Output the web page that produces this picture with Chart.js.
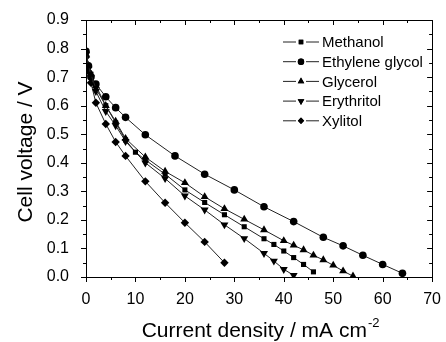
<!DOCTYPE html>
<html>
<head>
<meta charset="utf-8">
<script src="https://cdn.jsdelivr.net/npm/chart.js@4/dist/chart.umd.min.js"></script>
<style>
  html, body { margin: 0; padding: 0; background: #fff; }
  #wrap { width: 446px; height: 342px; }
</style>
</head>
<body>
<div id="wrap"><canvas id="polCurve" width="446" height="342"></canvas></div>
<script>
const seriesNames = ['Methanol', 'Ethylene glycol', 'Glycerol', 'Erythritol', 'Xylitol'];
const markerStyles = ['rect', 'circle', 'triangle', 'triangle', 'rectRot'];
const markerRotations = [0, 0, 0, 180, 0];
const markerRadii = [3.6, 3.8, 4.6, 4.6, 4.2];

const methanolX = [0, 0.5, 1, 2, 4, 6, 8, 10, 12, 16, 20, 24, 28, 32, 36, 38, 40, 42, 44, 46];
const methanolV = [0.79, 0.74, 0.71, 0.66, 0.60, 0.54, 0.48, 0.437, 0.41, 0.36, 0.305, 0.261, 0.218, 0.176, 0.134, 0.114, 0.091, 0.068, 0.044, 0.018];

const glycolX = [0, 0.5, 1, 2, 4, 6, 8, 12, 18, 24, 30, 36, 42, 48, 52, 56, 60, 64];
const glycolV = [0.79, 0.74, 0.70, 0.676, 0.631, 0.593, 0.559, 0.498, 0.424, 0.36, 0.305, 0.246, 0.194, 0.139, 0.109, 0.076, 0.044, 0.013];

const glycerolX = [0, 0.5, 1, 2, 4, 6, 8, 12, 16, 20, 24, 28, 32, 36, 40, 42, 44, 46, 48, 50, 52, 54];
const glycerolV = [0.78, 0.74, 0.71, 0.67, 0.60, 0.545, 0.485, 0.42, 0.37, 0.33, 0.281, 0.239, 0.202, 0.165, 0.127, 0.111, 0.095, 0.076, 0.06, 0.041, 0.021, 0.003];

const erythritolX = [0, 0.5, 1, 2, 4, 6, 8, 12, 16, 20, 24, 28, 32, 36, 38, 40, 42];
const erythritolV = [0.78, 0.73, 0.70, 0.65, 0.58, 0.53, 0.475, 0.40, 0.345, 0.284, 0.235, 0.183, 0.135, 0.083, 0.056, 0.027, 0.006];

const xylitolX = [0, 0.5, 1, 2, 4, 6, 8, 12, 16, 20, 24, 28];
const xylitolV = [0.77, 0.72, 0.68, 0.61, 0.536, 0.473, 0.424, 0.335, 0.26, 0.19, 0.123, 0.05];

const xTicks = [0, 10, 20, 30, 40, 50, 60, 70];
const yTicks = [0.0, 0.1, 0.2, 0.3, 0.4, 0.5, 0.6, 0.7, 0.8, 0.9];

const allX = [methanolX, glycolX, glycerolX, erythritolX, xylitolX];
const allV = [methanolV, glycolV, glycerolV, erythritolV, xylitolV];

const FONT = '"Liberation Sans", Arial, sans-serif';

const datasets = seriesNames.map((name, i) => ({
    label: name,
    data: allX[i].map((x, j) => ({ x: x, y: allV[i][j] })),
    showLine: true,
    borderColor: '#222',
    borderWidth: 1,
    backgroundColor: '#000',
    pointBackgroundColor: '#000',
    pointBorderColor: '#000',
    pointBorderWidth: 0,
    pointStyle: markerStyles[i],
    rotation: markerRotations[i],
    pointRadius: markerRadii[i],
    tension: 0
}));

// frame, minor ticks, axis titles, legend
const framePlugin = {
    id: 'frame',
    afterDraw(chart) {
        const ctx = chart.ctx;
        const area = chart.chartArea;
        const xs = chart.scales.x;
        const ys = chart.scales.y;
        ctx.save();
        ctx.strokeStyle = '#000';
        ctx.lineWidth = 1;
        ctx.strokeRect(Math.round(area.left) + 0.5, Math.round(area.top) + 0.5,
            Math.round(area.right - area.left), Math.round(area.bottom - area.top));

        ctx.beginPath();
        for (let v = 0; v <= 70; v += 5) {
            const px = Math.round(xs.getPixelForValue(v)) + 0.5;
            const len = v % 10 === 0 ? 5 : 3;
            ctx.moveTo(px, area.bottom);
            ctx.lineTo(px, area.bottom + len);
            ctx.moveTo(px, area.top);
            ctx.lineTo(px, area.top + len);
        }
        for (let k = 0; k <= 18; k++) {
            const py = Math.round(ys.getPixelForValue(k * 0.05)) + 0.5;
            const len = k % 2 === 0 ? 5 : 3;
            ctx.moveTo(area.left, py);
            ctx.lineTo(area.left - len, py);
            ctx.moveTo(area.right, py);
            ctx.lineTo(area.right - len, py);
        }
        ctx.stroke();

        // axis titles
        ctx.fillStyle = '#000';
        ctx.textBaseline = 'alphabetic';
        const main = 'Current density / mA cm';
        const sup = '-2';
        ctx.font = '21px ' + FONT;
        const wMain = ctx.measureText(main).width;
        ctx.font = '13px ' + FONT;
        const wSup = ctx.measureText(sup).width;
        const cx = (area.left + area.right) / 2 + 1;
        const startX = cx - (wMain + wSup) / 2;
        ctx.textAlign = 'left';
        ctx.font = '21px ' + FONT;
        ctx.fillText(main, startX, 337);
        ctx.font = '13px ' + FONT;
        ctx.fillText(sup, startX + wMain + 1, 327);

        ctx.save();
        ctx.translate(32, 152);
        ctx.rotate(-Math.PI / 2);
        ctx.textAlign = 'center';
        ctx.font = '21px ' + FONT;
        ctx.fillText('Cell voltage / V', 0, 0);
        ctx.restore();

        // legend: line - marker - line, then name
        ctx.font = '15px ' + FONT;
        ctx.textAlign = 'left';
        ctx.textBaseline = 'middle';
        chart.data.datasets.forEach((ds, i) => {
            const y = 42 + i * 19.7;
            ctx.strokeStyle = '#222';
            ctx.beginPath();
            ctx.moveTo(283, y);
            ctx.lineTo(296, y);
            ctx.moveTo(306, y);
            ctx.lineTo(319, y);
            ctx.stroke();
            Chart.helpers.drawPoint(ctx, {
                pointStyle: ds.pointStyle,
                rotation: ds.rotation,
                radius: ds.pointStyle === 'triangle' ? 3.8 : 3.2,
                borderWidth: 0
            }, 301, y);
            ctx.fillStyle = '#000';
            ctx.fill();
            ctx.fillText(ds.label, 322, y + 1);
        });
        ctx.restore();
    }
};

new Chart(document.getElementById('polCurve').getContext('2d'), {
    type: 'scatter',
    data: { datasets: datasets },
    options: {
        responsive: false,
        animation: false,
        devicePixelRatio: 1,
        layout: { padding: { left: 0, right: 9, top: 20, bottom: 0 } },
        plugins: {
            legend: { display: false },
            tooltip: { enabled: false }
        },
        scales: {
            x: {
                type: 'linear',
                min: 0,
                max: 70,
                afterBuildTicks: scale => { scale.ticks = xTicks.map(v => ({ value: v })); },
                ticks: {
                    color: '#000',
                    font: { family: FONT, size: 16 },
                    padding: 5,
                    maxRotation: 0,
                    callback: v => String(v)
                },
                grid: { display: false },
                border: { display: true, color: '#000', width: 1 },
                afterFit: scale => { scale.height = 65; }
            },
            y: {
                type: 'linear',
                min: 0,
                max: 0.9,
                afterBuildTicks: scale => { scale.ticks = yTicks.map(v => ({ value: v })); },
                ticks: {
                    color: '#000',
                    font: { family: FONT, size: 16 },
                    padding: 9,
                    callback: v => Number(v).toFixed(1)
                },
                grid: { display: false },
                border: { display: true, color: '#000', width: 1 },
                afterFit: scale => { scale.height = undefined; scale.width = 86; }
            }
        }
    },
    plugins: [framePlugin]
});
</script>
</body>
</html>
